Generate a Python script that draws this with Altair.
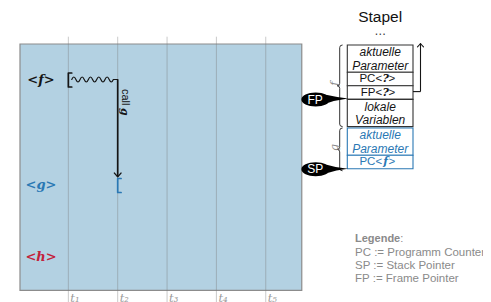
import altair as alt
import pandas as pd

# ---------------- data ----------------
times = [1, 2, 3, 4, 5]
time_labels = ["t\u2081", "t\u2082", "t\u2083", "t\u2084", "t\u2085"]
functions = ["f", "g", "h"]
function_labels = ["<f>", "<g>", "<h>"]
start_time = 1          # f runs from t1
call_time = 2           # f calls g at t2
call_from, call_to = "f", "g"
call_label, call_target = "call", "g"
stack_title = "Stapel"
stack_more = "\u2026"
frame_names = ["f", "g"]
frame_f_entries = ["aktuelle\nParameter", "PC<?>", "FP<?>", "lokale\nVariablen"]
frame_f_lines = [2, 1, 1, 2]
frame_g_entries = ["aktuelle\nParameter", "PC<f>"]
frame_g_lines = [2, 1]
pointer_names = ["FP", "SP"]
legend_title = "Legende"
legend_lines = ["PC := Programm Counter", "SP := Stack Pointer", "FP := Frame Pointer"]

# ---------------- layout / style ----------------
PAGE_W, PAGE_H, MARGIN = 491, 302, 8
SVG_W = PAGE_W - 2 * MARGIN
SVG_H = PAGE_H - MARGIN
TL_X0, TL_DT = 19.0, 49.35
TL_T0, TL_T1 = 0.02, 5.73
PANEL_TOP, PANEL_BOTTOM = 44.0, 290.3
GRID_TOP, GRID_BOTTOM = 36.7, 302.0
ROW_Y = {"f": 80.0, "g": 184.5, "h": 257.0}
LABEL_X = 41.0
STACK_X0, STACK_X1 = 347.3, 413.0
STACK_TOP = 45.0
LINE_H = 13.6
FRAME_GAP = 1.4
BRACE_X = 339.7
ARROW_X = 420.5
BUBBLE_X = 315.7
LEGEND_X, LEGEND_Y0, LEGEND_DY = 355.0, 242.3, 13.2

BLACK = "#151515"
BLUE = "#2a78b4"
RED = "#c3213b"
GRAY = "#8a8a8a"
FUNC_COLORS = {"f": BLACK, "g": BLUE, "h": RED}
FRAME_COLORS = {"f": "#333333", "g": BLUE}
SANS = "Liberation Sans"
SERIF = "DejaVu Serif"


def tx(t):
    return TL_X0 + TL_DT * t


XS = alt.Scale(domain=[MARGIN, MARGIN + SVG_W], range=[0, SVG_W], nice=False, zero=False)
YS = alt.Scale(domain=[MARGIN, MARGIN + SVG_H], range=[0, SVG_H], nice=False, zero=False)


def X():
    return alt.X("x:Q", scale=XS, axis=None)


def Y():
    return alt.Y("y:Q", scale=YS, axis=None)


def base(df):
    return alt.Chart(pd.DataFrame(df))


def text_layer(df, **kw):
    return base(df).mark_text(**kw).encode(x=X(), y=Y(), text="text:N",
                                           color=alt.Color("color:N", scale=None))


def shape_layer(df, filled=False, sw=1.5):
    return base(df).mark_point(filled=filled, size=4, opacity=1, strokeWidth=sw,
                               strokeCap="round", strokeJoin="round").encode(
        x=X(), y=Y(), shape=alt.Shape("path:N", scale=None),
        color=alt.Color("color:N", scale=None))


layers = []

# panel
layers.append(base({"x": [tx(TL_T0)], "x2": [tx(TL_T1)], "y": [PANEL_TOP], "y2": [PANEL_BOTTOM]})
              .mark_rect(fill="#b3d1e2", stroke="#8c8c8c", strokeWidth=1.2)
              .encode(x=X(), x2="x2:Q", y=Y(), y2="y2:Q"))

# time grid lines
layers.append(base({"x": [tx(t) for t in times], "y": [GRID_TOP] * 5, "y2": [GRID_BOTTOM] * 5})
              .mark_rule(stroke="#7a7a7a", strokeOpacity=0.4, strokeWidth=1)
              .encode(x=X(), y=Y(), y2="y2:Q"))

# time labels
layers.append(text_layer({"x": [tx(t) + 2 for t in times], "y": [301.5] * 5, "text": time_labels,
                          "color": ["#9a9a9a"] * 5},
                         align="left", baseline="alphabetic", font=SERIF, fontStyle="italic", fontSize=11.5))

# function labels
layers.append(text_layer({"x": [LABEL_X] * 3, "y": [ROW_Y[f] for f in functions], "text": function_labels,
                          "color": [FUNC_COLORS[f] for f in functions]},
                         align="center", baseline="middle", font=SERIF, fontStyle="italic",
                         fontWeight="bold", fontSize=13))

# start brackets
br = "M 3.4,-7 L 0,-7 L 0,7 L 3.4,7"
layers.append(shape_layer({"x": [tx(start_time), tx(call_time)],
                           "y": [ROW_Y[call_from], ROW_Y[call_to] + 1.0],
                           "path": [br, br],
                           "color": [FUNC_COLORS[call_from], FUNC_COLORS[call_to]]}, sw=1.7))

# wavy running line of f (t1 -> t2)
x_start = tx(start_time) + 3.4
x_end = tx(call_time)
wave_len = 41.6
hw = wave_len / 10
wave = "M 0,0"
for i in range(10):
    cy = -5 if i % 2 == 0 else 5
    wave += f" Q {hw * i + hw / 2:.2f},{cy} {hw * (i + 1):.2f},0"
wave += f" L {x_end - x_start:.2f},0"
layers.append(shape_layer({"x": [x_start], "y": [ROW_Y[call_from] - 0.5], "path": [wave], "color": [BLACK]}, sw=1.2))

# call arrow
arrow_tip = ROW_Y[call_to] - 7.8
layers.append(base({"x": [x_end], "y": [ROW_Y[call_from] - 0.5], "y2": [arrow_tip]})
              .mark_rule(stroke=BLACK, strokeWidth=1.7).encode(x=X(), y=Y(), y2="y2:Q"))
chev_down = "M -3.3,-3.6 Q -1.2,-1.2 0,0 Q 1.2,-1.2 3.3,-3.6"
layers.append(shape_layer({"x": [x_end], "y": [arrow_tip], "path": [chev_down], "color": [BLACK]}, sw=1.4))

# call g text (rotated)
layers.append(text_layer({"x": [x_end + 6.8], "y": [ROW_Y[call_from] + 9], "text": [call_label], "color": [BLACK]},
                         align="left", baseline="middle", angle=90, font=SANS, fontSize=11))
layers.append(text_layer({"x": [x_end + 6.4], "y": [ROW_Y[call_from] + 28], "text": [call_target], "color": [BLACK]},
                         align="left", baseline="middle", angle=90, font=SERIF, fontStyle="italic",
                         fontWeight="bold", fontSize=11))

# ---------------- stack ----------------
cx = (STACK_X0 + STACK_X1) / 2
rows = []
spans = {}
y = STACK_TOP
for fr, entries, lines in [("f", frame_f_entries, frame_f_lines), ("g", frame_g_entries, frame_g_lines)]:
    s = y
    for e, n in zip(entries, lines):
        rows.append({"frame": fr, "text": e, "y": y, "y2": y + n * LINE_H})
        y += n * LINE_H
    spans[fr] = (s, y)
    y += FRAME_GAP
rows_df = pd.DataFrame(rows)
rows_df["x"] = STACK_X0
rows_df["x2"] = STACK_X1
rows_df["color"] = rows_df["frame"].map(FRAME_COLORS)
layers.append(alt.Chart(rows_df).mark_rect(fill="white", strokeWidth=1.1)
              .encode(x=X(), x2="x2:Q", y=Y(), y2="y2:Q", stroke=alt.Stroke("color:N", scale=None)))

txt_color = {"f": BLACK, "g": BLUE}
ml_x, ml_y, ml_t, ml_c = [], [], [], []
for r in rows:
    if "\n" in r["text"]:
        for j, part in enumerate(r["text"].split("\n")):
            ml_x.append(cx)
            ml_y.append(r["y"] + (j + 0.5) * LINE_H + 0.3)
            ml_t.append(part)
            ml_c.append(txt_color[r["frame"]])
layers.append(text_layer({"x": ml_x, "y": ml_y, "text": ml_t, "color": ml_c},
                         align="center", baseline="middle", font=SANS, fontStyle="italic", fontSize=12))
single = [r for r in rows if "\n" not in r["text"]]
ym = [(r["y"] + r["y2"]) / 2 + 0.3 for r in single]
cols = [txt_color[r["frame"]] for r in single]
layers.append(text_layer({"x": [cx + 2] * len(single), "y": ym, "text": [r["text"][:3] for r in single],
                          "color": cols}, align="right", baseline="middle", font=SANS, fontSize=11.5))
layers.append(text_layer({"x": [cx + 5.5] * len(single), "y": ym, "text": [r["text"][3:-1] for r in single],
                          "color": cols}, align="center", baseline="middle", font=SERIF, fontStyle="italic",
                         fontWeight="bold", fontSize=11))
layers.append(text_layer({"x": [cx + 8.3] * len(single), "y": ym, "text": [r["text"][-1:] for r in single],
                          "color": cols}, align="left", baseline="middle", font=SANS, fontSize=11.5))

# title
layers.append(text_layer({"x": [cx], "y": [21.7], "text": [stack_title], "color": ["#111111"]},
                         align="center", baseline="alphabetic", font=SANS, fontSize=15.5))
layers.append(text_layer({"x": [cx], "y": [35], "text": [stack_more], "color": ["#333333"]},
                         align="center", baseline="alphabetic", font=SANS, fontSize=12))

# braces
bpaths, bys = [], []
for fr in frame_names:
    s, e = spans[fr]
    if fr == "g":
        e += 2.0
    h = (e - s) / 2
    bys.append((s + e) / 2)
    bpaths.append(f"M 2.5,{-h:.2f} Q 0,{-h:.2f} 0,{-h + 2.5:.2f} L 0,-2.5 Q 0,0 -2.5,0 Q 0,0 0,2.5 "
                  f"L 0,{h - 2.5:.2f} Q 0,{h:.2f} 2.5,{h:.2f}")
layers.append(shape_layer({"x": [BRACE_X] * 2, "y": bys, "path": bpaths, "color": ["#333333"] * 2}, sw=1.0))
layers.append(text_layer({"x": [BRACE_X - 4.5] * 2, "y": [b - 2 for b in bys], "text": frame_names,
                          "color": [GRAY] * 2}, align="center", baseline="middle", angle=270,
                         font=SERIF, fontStyle="italic", fontSize=11))

# return arrow from FP<?> to top
fp_row = [r for r in rows if r["text"].startswith("FP")][0]
fp_y = (fp_row["y"] + fp_row["y2"]) / 2 - 1
layers.append(base({"x": [STACK_X1], "x2": [ARROW_X], "y": [fp_y]})
              .mark_rule(stroke=BLACK, strokeWidth=1.1).encode(x=X(), x2="x2:Q", y=Y()))
layers.append(base({"x": [ARROW_X], "y": [fp_y], "y2": [STACK_TOP - 1.5]})
              .mark_rule(stroke=BLACK, strokeWidth=1.1).encode(x=X(), y=Y(), y2="y2:Q"))
chev_up = "M -3,3.4 Q -1,1.2 0,0 Q 1,1.2 3,3.4"
layers.append(shape_layer({"x": [ARROW_X], "y": [STACK_TOP - 1.5], "path": [chev_up], "color": [BLACK]}, sw=1.1))

# pointer callouts
fp_target = fp_row["y2"] - 1
sp_target = spans["g"][1]
tip_x = STACK_X0 + 0.7 - BUBBLE_X
rx, ry, k = 14.3, 7.0, 0.5523


def bubble(tip_dy):
    return (f"M {rx},0 C {rx},{k*ry:.2f} {k*rx:.2f},{ry} 0,{ry} C {-k*rx:.2f},{ry} {-rx},{k*ry:.2f} {-rx},0 "
            f"C {-rx},{-k*ry:.2f} {-k*rx:.2f},{-ry} 0,{-ry} C {k*rx:.2f},{-ry} {rx},{-k*ry:.2f} {rx},0 Z "
            f"M 9,-5 Q 20,{tip_dy - 1.2:.2f} {tip_x:.2f},{tip_dy:.2f} Q 21,{tip_dy + 1.2:.2f} 9,4.5 Z")


b_y = [fp_target + 1.2, sp_target + 0.4]
layers.append(shape_layer({"x": [BUBBLE_X] * 2, "y": b_y,
                           "path": [bubble(-1.2), bubble(-0.4)], "color": ["#000000"] * 2}, filled=True, sw=0))
layers.append(text_layer({"x": [BUBBLE_X - 0.5] * 2, "y": b_y, "text": pointer_names, "color": ["white"] * 2},
                         align="center", baseline="middle", font=SANS, fontSize=12))

# legend
layers.append(text_layer({"x": [LEGEND_X], "y": [LEGEND_Y0], "text": [legend_title], "color": [GRAY]},
                         align="left", baseline="alphabetic", font=SANS, fontWeight="bold", fontSize=11))
layers.append(text_layer({"x": [LEGEND_X + 45.3], "y": [LEGEND_Y0], "text": [":"], "color": [GRAY]},
                         align="left", baseline="alphabetic", font=SANS, fontSize=11))
layers.append(text_layer({"x": [LEGEND_X] * 3, "y": [LEGEND_Y0 + LEGEND_DY * (i + 1) for i in range(3)],
                          "text": legend_lines, "color": [GRAY] * 3},
                         align="left", baseline="alphabetic", font=SANS, fontSize=11.5))

chart = alt.layer(*layers).properties(
    width=SVG_W, height=SVG_H,
    autosize=alt.AutoSizeParams(type="none"), padding=0,
).configure_view(stroke=None)

chart.save("out.html", embed_options={"renderer": "svg", "actions": False})
